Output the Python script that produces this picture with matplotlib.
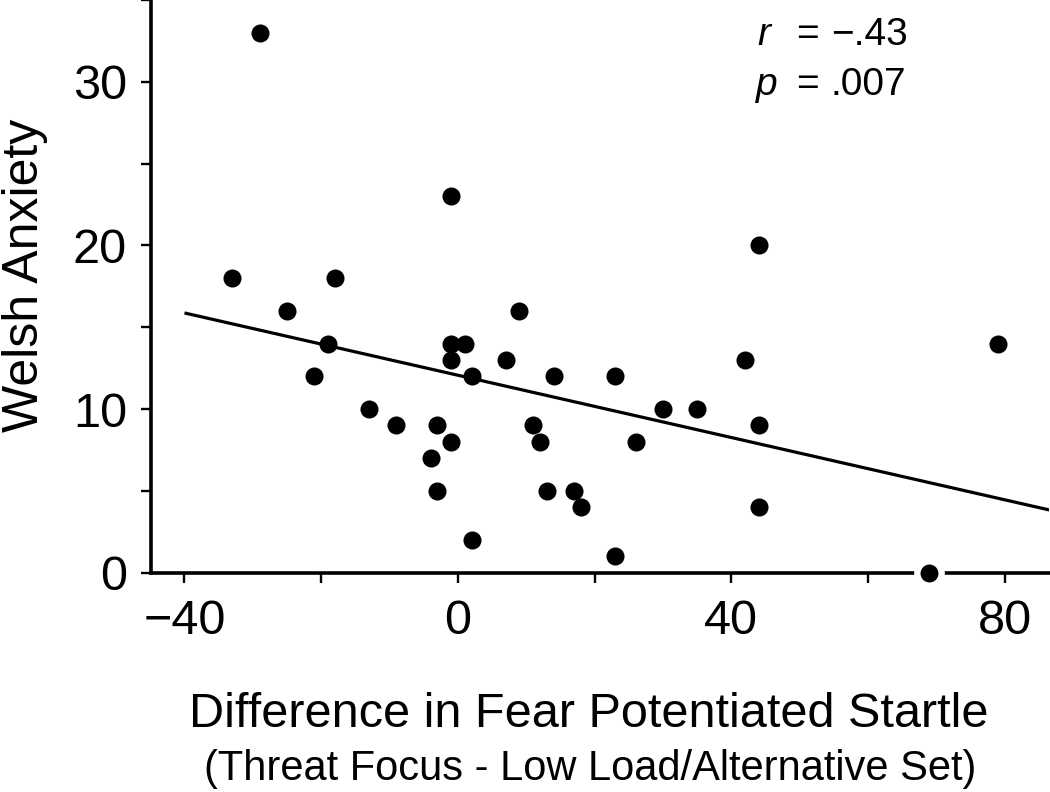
import numpy as np
import matplotlib
matplotlib.use("Agg")
import matplotlib.pyplot as plt

# data
fps_diff = [-29, -33, -25, -18, -19, -21, -13, -9, -3, -4, -3, -1, -1, -1, 1, -1, 2, 2,
            7, 9, 11, 12, 13, 14, 17, 18, 23, 23, 26, 30, 35, 42, 44, 44, 44, 69, 79]
welsh = [33, 18, 16, 18, 14, 12, 10, 9, 9, 7, 5, 23, 14, 13, 14, 8, 12, 2,
         13, 16, 9, 8, 5, 12, 5, 4, 12, 1, 8, 10, 10, 13, 20, 9, 4, 0, 14]
fit_range = [-40, 87]
x_ticks = [-40, -20, 0, 20, 40, 60, 80]
x_ticklabels = ["\u221240", "", "0", "", "40", "", "80"]
y_ticks = [0, 5, 10, 15, 20, 25, 30, 35]
y_ticklabels = ["0", "", "10", "", "20", "", "30", ""]

plt.rcParams['font.family'] = ['Liberation Sans', 'DejaVu Sans']

W, H = 1050, 792
fig = plt.figure(figsize=(W / 100, H / 100), dpi=100)
ax = fig.add_axes([151 / W, 1 - 572.7 / H, (1049 - 151) / W, 572.7 / H])

x = np.array(fps_diff, dtype=float)
y = np.array(welsh, dtype=float)
slope, intercept = np.polyfit(x, y, 1)
lx = np.array(fit_range, dtype=float)
ax.plot(lx, slope * lx + intercept, color='black', lw=2.3, zorder=2, solid_capstyle='butt')

ax.plot(x, y, 'o', color='black', ms=13, mew=0, zorder=3, clip_on=False)
on_axis = y == 0
ax.plot(x[on_axis], y[on_axis], 'o', color='black', ms=17.5, mec='white', mew=4.6,
        zorder=5, clip_on=False)

ax.set_xlim(-44.9, 86.5)
ax.set_ylim(0, 35)

for s in ['top', 'right']:
    ax.spines[s].set_visible(False)
for s in ['left', 'bottom']:
    ax.spines[s].set_linewidth(2.6)
    ax.spines[s].set_zorder(4)

ax.set_xticks(x_ticks)
ax.set_xticklabels(x_ticklabels)
ax.set_yticks(y_ticks)
ax.set_yticklabels(y_ticklabels)
ax.tick_params(axis='both', direction='out', length=7.2, width=1.7, labelsize=35, colors='black')
ax.tick_params(axis='x', pad=12)
ax.tick_params(axis='y', pad=10)

def px(xp, yp):
    return xp / W, 1 - yp / H

fig.text(*px(2, 275), "Welsh Anxiety", rotation=90, ha='left', va='center', fontsize=36)
fig.text(*px(588.5, 727), "Difference in Fear Potentiated Startle", ha='center',
         va='baseline', fontsize=35)
fig.text(*px(590.5, 780), "(Threat Focus - Low Load/Alternative Set)", ha='center',
         va='baseline', fontsize=30)

fig.text(*px(757, 45), "r", style='italic', ha='left', va='baseline', fontsize=28)
fig.text(*px(796, 45), "=", ha='left', va='baseline', fontsize=28)
fig.text(*px(831, 45), "\u2212.43", ha='left', va='baseline', fontsize=28)
fig.text(*px(756, 95), "p", style='italic', ha='left', va='baseline', fontsize=28)
fig.text(*px(796, 95), "=", ha='left', va='baseline', fontsize=28)
fig.text(*px(831, 95), ".007", ha='left', va='baseline', fontsize=28)

fig.savefig("out.png", dpi=100)
